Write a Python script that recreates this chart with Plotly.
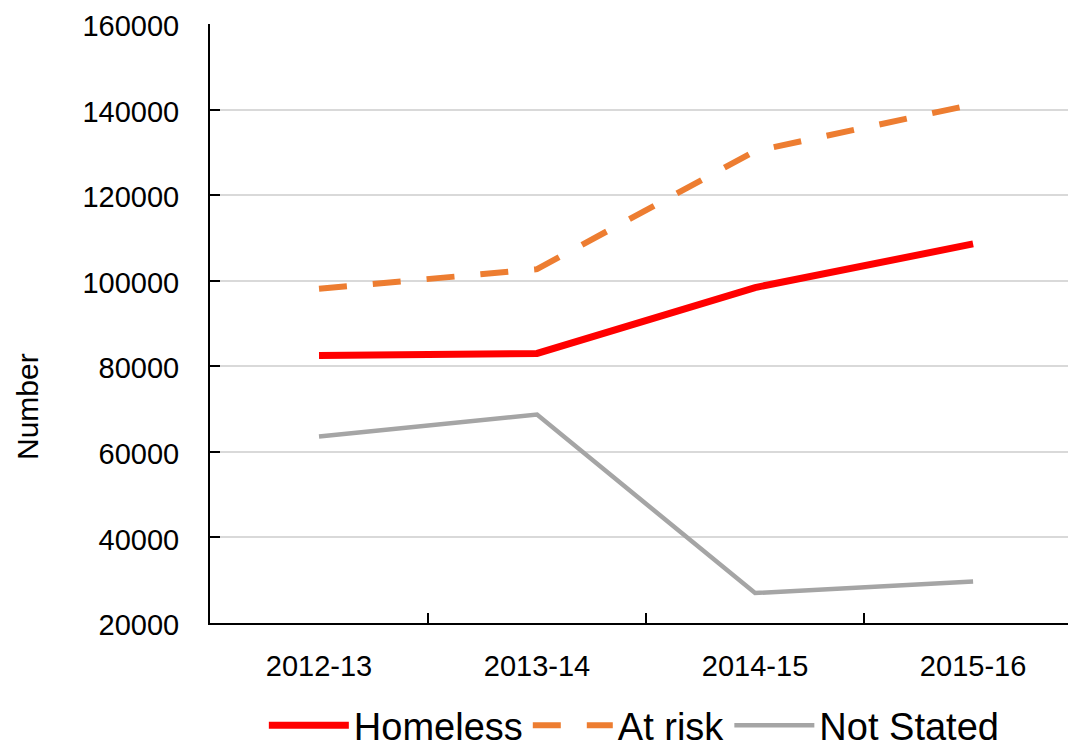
import plotly.graph_objects as go

categories = ["2012-13", "2013-14", "2014-15", "2015-16"]
homeless = [82500, 83000, 98400, 108600]
at_risk = [98100, 102700, 130300, 141200]
not_stated = [63600, 68700, 27000, 29700]
y_ticks = [20000, 40000, 60000, 80000, 100000, 120000, 140000, 160000]

FONT = "Liberation Sans, Arial, sans-serif"

fig = go.Figure()
fig.add_trace(go.Scatter(x=categories, y=homeless, name="Homeless", mode="lines",
                         line=dict(color="#FF0000", width=7)))
fig.add_trace(go.Scatter(x=categories, y=at_risk, name="At risk", mode="lines",
                         line=dict(color="#ED7D31", width=6, dash="28px,26px")))
fig.add_trace(go.Scatter(x=categories, y=not_stated, name="Not Stated", mode="lines",
                         line=dict(color="#A5A5A5", width=4.5)))

# page body has an 8px margin: plot area offsets compensate for it
fig.update_layout(
    width=1076, height=749,
    margin=dict(l=202, r=8, t=16, b=134, autoexpand=False),
    paper_bgcolor="white", plot_bgcolor="white",
    font=dict(family=FONT, color="black", size=29),
    showlegend=True,
    legend=dict(orientation="h", x=0.49, xanchor="center", y=-0.171, yanchor="middle",
                font=dict(size=38, family=FONT), itemwidth=80, traceorder="normal",
                bgcolor="rgba(0,0,0,0)"),
    xaxis=dict(type="category", range=[-0.5, 3.472], showline=True, linecolor="black",
               linewidth=2, ticks="inside", ticklen=10, tickwidth=1.5, tickcolor="black",
               tickson="boundaries", showgrid=False, ticklabelstandoff=16,
               tickfont=dict(size=29, family=FONT)),
    yaxis=dict(range=[20000, 160000], tickvals=y_ticks, ticktext=[str(v) for v in y_ticks],
               showline=True, linecolor="black", linewidth=2, ticks="inside", ticklen=10,
               tickwidth=1.5, tickcolor="black", showgrid=True, gridcolor="#D9D9D9",
               gridwidth=1.5, zeroline=False, ticklabelstandoff=23,
               ticklabeloverflow="allow", ticklabelshift=2,
               tickfont=dict(size=29, family=FONT)),
    annotations=[dict(text="Number", textangle=-90, xref="paper", yref="paper",
                      x=-0.211, y=0.361, xanchor="center", yanchor="middle",
                      showarrow=False, font=dict(size=30, family=FONT))],
)

fig.write_html("out.html")
